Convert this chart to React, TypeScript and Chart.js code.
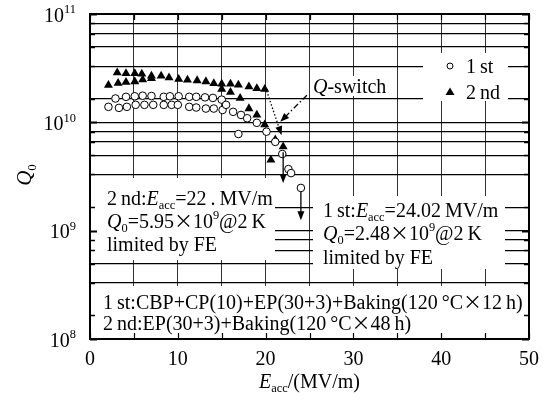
import React, { useEffect, useRef } from 'react';
import { Chart, registerables } from 'chart.js';
Chart.register(...registerables);

// ---- data ----
const firstE = [2.1, 2.9, 3.3, 4.1, 4.2, 5.1, 5.2, 6.0, 6.2, 7.0, 7.2, 8.4, 8.4, 9.1, 9.3, 10.0, 10.1, 11.3, 11.3, 12.1, 12.1, 13.1, 13.2, 14.0, 14.1, 15.0, 15.1, 15.5, 16.3, 16.9, 17.2, 17.9, 19.0, 20.1, 21.1, 21.9, 22.6, 22.9, 24.02];
const firstQ = [1.39e10, 1.66e10, 1.36e10, 1.72e10, 1.39e10, 1.74e10, 1.45e10, 1.76e10, 1.45e10, 1.75e10, 1.45e10, 1.72e10, 1.45e10, 1.74e10, 1.45e10, 1.45e10, 1.74e10, 1.72e10, 1.39e10, 1.72e10, 1.37e10, 1.7e10, 1.34e10, 1.68e10, 1.34e10, 1.62e10, 1.3e10, 1.45e10, 1.25e10, 7.8e9, 1.17e10, 1.09e10, 9.9e9, 8.2e9, 6.6e9, 5.1e9, 3.7e9, 3.4e9, 2.48e9];
const secondE = [2.1, 3.1, 3.2, 4.1, 4.1, 5.1, 5.1, 5.9, 6.0, 7.0, 7.0, 8.1, 9.0, 10.1, 11.1, 12.2, 13.2, 14.1, 15.0, 15.0, 16.0, 16.0, 16.9, 17.1, 18.1, 18.1, 19.0, 19.0, 19.9, 19.9, 20.6, 21.1, 22.0];
const secondQ = [2.2e10, 2.87e10, 2.3e10, 2.83e10, 2.35e10, 2.83e10, 2.38e10, 2.8e10, 2.48e10, 2.68e10, 2.55e10, 2.68e10, 2.58e10, 2.5e10, 2.46e10, 2.43e10, 2.38e10, 2.29e10, 2.26e10, 2.02e10, 2.26e10, 1.9e10, 2.21e10, 1.67e10, 2.13e10, 1.34e10, 2.06e10, 1.17e10, 2.02e10, 9.5e9, 4.5e9, 6.9e9, 5.95e9];
const seriesLabels = ['1\u2009st', '2\u2009nd'];
const xTickValues = [0, 10, 20, 30, 40, 50];
const xGridStep = 5;
const yDecades = [8, 9, 10, 11];
const yMinorFactors = [1.65, 3.3, 4.95, 6.6, 8.2];

const yGridValues: number[] = [];
yDecades.forEach((d, i) => {
  yGridValues.push(Math.pow(10, d));
  if (i < yDecades.length - 1) yMinorFactors.forEach(f => yGridValues.push(f * Math.pow(10, d)));
});

const FONT = "'Liberation Serif', 'Times New Roman', serif";
const CJK = "'Noto Sans CJK SC', sans-serif";
const F = 20;

type Seg = { t: string; i?: boolean; sub?: boolean; sup?: boolean; cjk?: boolean; sz?: number };
const segFont = (s: Seg, size: number) =>
  `${s.i ? 'italic ' : ''}${(s.sub || s.sup) ? size * 0.62 : size * (s.sz || 1)}px ${s.cjk ? CJK : FONT}`;

function drawRich(ctx: CanvasRenderingContext2D, segs: Seg[], x: number, yc: number, size: number, align = 'left') {
  let w = 0;
  for (const s of segs) { ctx.font = segFont(s, size); w += ctx.measureText(s.t).width; }
  let cx = align === 'center' ? x - w / 2 : align === 'right' ? x - w : x;
  const base = yc + size * 0.33;
  ctx.textBaseline = 'alphabetic';
  ctx.textAlign = 'left';
  ctx.fillStyle = '#000';
  for (const s of segs) {
    ctx.font = segFont(s, size);
    const dy = s.sub ? size * 0.22 : s.sup ? -size * 0.42 : s.cjk ? size * 0.02 : 0;
    ctx.fillText(s.t, cx, base + dy);
    cx += ctx.measureText(s.t).width;
  }
}

function arrow(ctx: CanvasRenderingContext2D, x1: number, y1: number, x2: number, y2: number, dash: number[], head = 9, hw = 3.5) {
  const ang = Math.atan2(y2 - y1, x2 - x1);
  ctx.save();
  ctx.strokeStyle = '#000';
  ctx.lineWidth = 1.3;
  ctx.setLineDash(dash);
  ctx.beginPath();
  ctx.moveTo(x1, y1);
  ctx.lineTo(x2 - Math.cos(ang) * head * 0.8, y2 - Math.sin(ang) * head * 0.8);
  ctx.stroke();
  ctx.setLineDash([]);
  ctx.fillStyle = '#000';
  ctx.beginPath();
  ctx.moveTo(x2, y2);
  ctx.lineTo(x2 - Math.cos(ang) * head - Math.sin(ang) * hw, y2 - Math.sin(ang) * head + Math.cos(ang) * hw);
  ctx.lineTo(x2 - Math.cos(ang) * head + Math.sin(ang) * hw, y2 - Math.sin(ang) * head - Math.cos(ang) * hw);
  ctx.closePath();
  ctx.fill();
  ctx.restore();
}

const whiteBoxes = [
  [423, 53, 85, 48],   // legend
  [310, 76, 84, 20],   // Q-switch
  [91, 178, 184, 82],  // 2nd note
  [313, 196, 192, 73], // 1st note
  [91, 286, 441, 52],  // process note
];

const TIMES: Seg = { t: '\u00D7', cjk: true, sz: 0.95 };

const decor = {
  id: 'decor',
  beforeDatasetsDraw(chart: any) {
    const ctx = chart.ctx as CanvasRenderingContext2D;
    const a = chart.chartArea;
    const xs = chart.scales.x, ys = chart.scales.y;
    ctx.save();
    ctx.fillStyle = '#fff';
    for (const [x, y, w, h] of whiteBoxes) ctx.fillRect(x, y, w, h);
    ctx.strokeStyle = '#000';
    yGridValues.forEach((v, idx) => {
      const p = Math.round(ys.getPixelForValue(v)) + 0.5;
      const major = idx % (yMinorFactors.length + 1) === 0;
      const len = major ? 7 : 5;
      ctx.lineWidth = major ? 2 : 1.5;
      ctx.beginPath();
      ctx.moveTo(a.left, p); ctx.lineTo(a.left + len, p);
      ctx.moveTo(a.right, p); ctx.lineTo(a.right - len, p);
      ctx.stroke();
    });
    ctx.lineWidth = 1.2;
    for (let v = 0; v <= 50; v += xGridStep) {
      const p = Math.round(xs.getPixelForValue(v)) + 0.5;
      ctx.beginPath();
      ctx.moveTo(p, a.bottom); ctx.lineTo(p, a.bottom - 6);
      ctx.moveTo(p, a.top); ctx.lineTo(p, a.top + 6);
      ctx.stroke();
    }
    ctx.restore();
  },
  afterDatasetsDraw(chart: any) {
    const ctx = chart.ctx as CanvasRenderingContext2D;
    const a = chart.chartArea;
    const xs = chart.scales.x, ys = chart.scales.y;
    const px = (v: number) => xs.getPixelForValue(v);
    const py = (v: number) => ys.getPixelForValue(v);
    ctx.save();
    // frame
    ctx.strokeStyle = '#000';
    ctx.lineWidth = 2;
    ctx.strokeRect(a.left, a.top, a.right - a.left, a.bottom - a.top);

    // y tick labels
    for (const d of yDecades) {
      drawRich(ctx, [{ t: '10' }, { t: String(d), sup: true }], a.left - 14, py(Math.pow(10, d)) + 1, F, 'right');
    }
    // y title
    ctx.save();
    ctx.translate(24, 175);
    ctx.rotate(-Math.PI / 2);
    drawRich(ctx, [{ t: 'Q', i: true }, { t: '0', sub: true }], 0, 0, 21, 'center');
    ctx.restore();
    // x title
    drawRich(ctx, [{ t: 'E', i: true }, { t: 'acc', sub: true }, { t: '/(MV/m)' }], (a.left + a.right) / 2, 381, F, 'center');

    // legend
    ctx.lineWidth = 1;
    ctx.strokeStyle = '#000';
    ctx.beginPath();
    ctx.arc(450, 66, 3, 0, Math.PI * 2);
    ctx.fillStyle = '#fff'; ctx.fill(); ctx.stroke();
    ctx.fillStyle = '#000';
    ctx.beginPath();
    ctx.moveTo(450, 87.5); ctx.lineTo(454.5, 95); ctx.lineTo(445.5, 95); ctx.closePath(); ctx.fill();
    drawRich(ctx, [{ t: seriesLabels[0] }], 466, 66, F);
    drawRich(ctx, [{ t: seriesLabels[1] }], 466, 92, F);

    // Q-switch label and arrows
    drawRich(ctx, [{ t: 'Q', i: true }, { t: '-switch' }], 313, 86, F);
    arrow(ctx, px(20.12), py(1.95e10), px(21.82), py(7.6e9), [1.5, 2]);
    arrow(ctx, px(24.7), py(1.78e10), px(21.67), py(1.01e10), [6, 2.5, 1.5, 2.5]);
    arrow(ctx, px(22.0), py(5.3e9), px(22.0), py(2.75e9), []);
    arrow(ctx, px(24.02), py(2.27e9), px(24.02), py(1.25e9), []);

    // notes
    drawRich(ctx, [{ t: '2\u2009nd:' }, { t: 'E', i: true }, { t: 'acc', sub: true }, { t: '=22\u2009.\u2009MV/m' }], 107, 198, F);
    drawRich(ctx, [{ t: 'Q', i: true }, { t: '0', sub: true }, { t: '=5.95' }, TIMES, { t: '10' }, { t: '9', sup: true }, { t: '@2\u2009K' }], 107, 221, F);
    drawRich(ctx, [{ t: 'limited by FE' }], 107, 244, F);

    drawRich(ctx, [{ t: '1\u2009st:' }, { t: 'E', i: true }, { t: 'acc', sub: true }, { t: '=24.02\u2009MV/m' }], 323, 210, F);
    drawRich(ctx, [{ t: 'Q', i: true }, { t: '0', sub: true }, { t: '=2.48' }, TIMES, { t: '10' }, { t: '9', sup: true }, { t: '@2\u2009K' }], 323, 233, F);
    drawRich(ctx, [{ t: 'limited by FE' }], 323, 257, F);

    drawRich(ctx, [{ t: '1\u2009st:CBP+CP(10)+EP(30+3)+Baking(120\u2009\u00B0C' }, TIMES, { t: '12\u2009h)' }], 103, 302, F);
    drawRich(ctx, [{ t: '2\u2009nd:EP(30+3)+Baking(120\u2009\u00B0C' }, TIMES, { t: '48\u2009h)' }], 103, 323, F);
    ctx.restore();
  },
};

export default function App() {
  const ref = useRef<HTMLCanvasElement>(null);
  useEffect(() => {
    if (!ref.current) return;
    const chart = new Chart(ref.current, {
      type: 'scatter',
      data: {
        datasets: [
          {
            label: seriesLabels[0],
            data: firstE.map((x, i) => ({ x, y: firstQ[i] })),
            pointStyle: 'circle',
            pointRadius: 3.8,
            pointBorderWidth: 1,
            pointBorderColor: '#000',
            pointBackgroundColor: '#fff',
          },
          {
            label: seriesLabels[1],
            data: secondE.map((x, i) => ({ x, y: secondQ[i] })),
            pointStyle: 'triangle',
            pointRadius: 5.2,
            pointBorderWidth: 0,
            pointBorderColor: '#000',
            pointBackgroundColor: '#000',
          },
        ],
      },
      options: {
        animation: false,
        responsive: false,
        devicePixelRatio: 1,
        layout: { padding: { left: 8, right: 15, top: 14, bottom: 0 } },
        plugins: { legend: { display: false }, tooltip: { enabled: false } },
        scales: {
          x: {
            type: 'linear',
            min: 0,
            max: 50,
            afterFit: (s: any) => { s.height = 63; },
            ticks: {
              stepSize: xGridStep,
              autoSkip: false,
              maxRotation: 0,
              padding: 9,
              color: '#000',
              font: { family: FONT, size: F },
              callback: (v: any) => (xTickValues.includes(Number(v)) ? String(v) : ''),
            },
            grid: { color: '#333', lineWidth: 1, drawTicks: false },
            border: { display: false },
          },
          y: {
            type: 'logarithmic',
            min: 1e8,
            max: 1e11,
            afterFit: (s: any) => { s.width = 82; },
            afterBuildTicks: (s: any) => { s.ticks = yGridValues.map(v => ({ value: v })); },
            ticks: { display: false },
            grid: { color: '#000', lineWidth: 1.2, drawTicks: false },
            border: { display: false },
          },
        },
      },
      plugins: [decor],
    } as any);
    return () => chart.destroy();
  }, []);
  return (
    <div style={{ position: 'absolute', left: 0, top: 0, width: 548, height: 402, background: '#fff' }}>
      <canvas ref={ref} width={548} height={402} />
    </div>
  );
}
